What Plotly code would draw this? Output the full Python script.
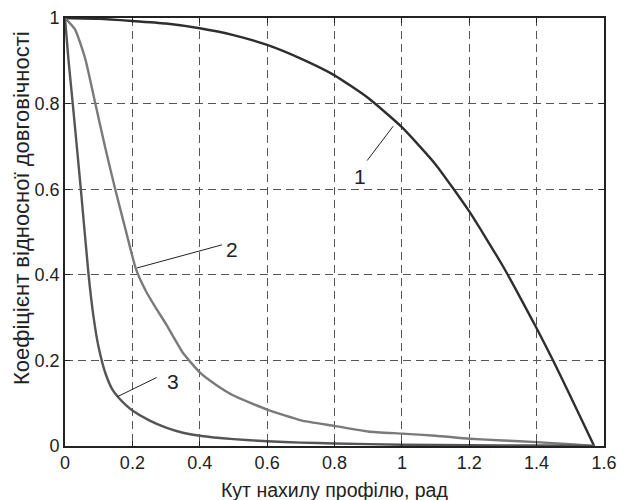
import plotly.graph_objects as go

# Curve 1
x1 = [0, 0.1, 0.2, 0.3, 0.4, 0.5, 0.6, 0.7, 0.8, 0.9, 1.0, 1.1, 1.2, 1.3, 1.4, 1.45, 1.5, 1.5708]
y1 = [1, 0.998, 0.993, 0.987, 0.976, 0.960, 0.937, 0.905, 0.866, 0.813, 0.745, 0.658, 0.548, 0.42, 0.275, 0.198, 0.117, 0]
# Curve 2
x2 = [0, 0.03, 0.06, 0.09, 0.12, 0.15, 0.18, 0.21, 0.24, 0.27, 0.3, 0.35, 0.4, 0.45, 0.5, 0.6, 0.7,
      0.8, 0.9, 1.0, 1.1, 1.2, 1.3, 1.4, 1.5, 1.5708]
y2 = [1, 0.973, 0.905, 0.80, 0.695, 0.597, 0.505, 0.415, 0.362, 0.322, 0.285, 0.218, 0.172, 0.142, 0.118, 0.085, 0.060,
      0.047, 0.034, 0.029, 0.024, 0.017, 0.013, 0.009, 0.004, 0]
# Curve 3
x3 = [0, 0.01, 0.023, 0.047, 0.07, 0.085, 0.1, 0.12, 0.14, 0.16, 0.18, 0.2, 0.25, 0.3, 0.35, 0.4, 0.5,
      0.6, 0.7, 0.8, 1.0, 1.2, 1.4, 1.5708]
y3 = [1, 0.905, 0.80, 0.60, 0.40, 0.30, 0.23, 0.17, 0.133, 0.112, 0.096, 0.083, 0.060, 0.043, 0.031, 0.024, 0.016,
      0.011, 0.008, 0.006, 0.003, 0.002, 0.001, 0]

x_ticks = [0, 0.2, 0.4, 0.6, 0.8, 1.0, 1.2, 1.4, 1.6]
x_tick_labels = ["0", "0.2", "0.4", "0.6", "0.8", "1", "1.2", "1.4", "1.6"]
y_ticks = [0, 0.2, 0.4, 0.6, 0.8, 1.0]
y_tick_labels = ["0", "0.2", "0.4", "0.6", "0.8", "1"]

x_title = "Кут нахилу профілю, рад"
y_title = "Коефіцієнт відносної довговічності"

# curve labels: text, text pos, leader start (on curve), leader end
curve_labels = [
    ("1", 0.877, 0.63, 0.974, 0.747, 0.897, 0.667),
    ("2", 0.496, 0.458, 0.214, 0.416, 0.466, 0.47),
    ("3", 0.321, 0.15, 0.155, 0.115, 0.272, 0.16),
]

normal = "Liberation Sans, Arial, sans-serif"

fig = go.Figure()
for xs, ys, col in [(x1, y1, "#2e2e2e"), (x2, y2, "#7a7a7a"), (x3, y3, "#555555")]:
    fig.add_trace(go.Scatter(x=xs, y=ys, mode="lines",
                             line=dict(color=col, width=2.4, shape="spline", smoothing=0.5),
                             showlegend=False))

for txt, tx, ty, ax0, ay0, ax1, ay1 in curve_labels:
    fig.add_shape(type="line", x0=ax0, y0=ay0, x1=ax1, y1=ay1, xref="x", yref="y",
                  line=dict(color="#222222", width=1))
    fig.add_annotation(x=tx, y=ty, text=txt, showarrow=False, xref="x", yref="y",
                       font=dict(family=normal, size=21, color="#222222"))

axis_common = dict(
    showline=True, linecolor="#222222", linewidth=1.6, mirror="ticks",
    ticks="inside", ticklen=5, tickcolor="#222222", tickwidth=1,
    showgrid=True, gridcolor="#555555", gridwidth=1, griddash="8px,5px",
    zeroline=False, automargin=False,
    tickfont=dict(family=normal, size=18, color="#222222"),
)

fig.update_xaxes(range=[0, 1.6], tickvals=x_ticks, ticktext=x_tick_labels, **axis_common)
fig.update_yaxes(range=[0, 1], tickvals=y_ticks, ticktext=y_tick_labels, **axis_common)

fig.add_annotation(x=0.5, y=0, xref="paper", yref="paper", xanchor="center", yanchor="middle",
                   yshift=-44, text=x_title,
                   showarrow=False, font=dict(family=normal, size=19.5, color="#222222"))
fig.add_annotation(x=0, y=0.5, xref="paper", yref="paper", xanchor="center", yanchor="middle",
                   xshift=-44, yshift=24, text=y_title,
                   textangle=-90, showarrow=False, font=dict(family=normal, size=22, color="#222222"))

fig.update_layout(
    width=617, height=500,
    margin=dict(l=65, r=13, t=18, b=54, autoexpand=False),
    paper_bgcolor="white", plot_bgcolor="white",
)

fig.write_html("out.html", config={"displayModeBar": False},
               post_script="document.body.style.margin='0px';document.body.style.overflow='hidden';")
